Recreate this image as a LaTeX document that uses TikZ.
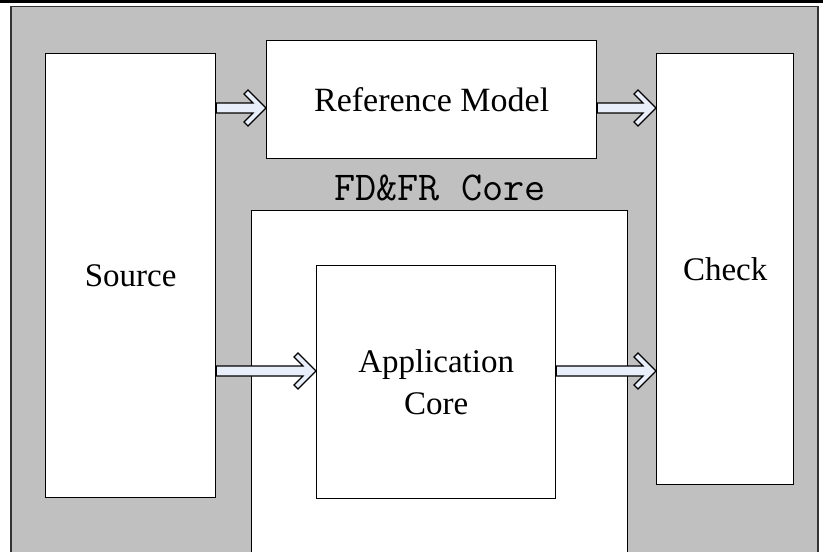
\documentclass[tikz,border=0pt]{standalone}
\usepackage{fontspec}
\setmainfont{Liberation Serif}
\usetikzlibrary{calc}
\definecolor{bggray}{HTML}{C0C0C0}
\definecolor{arrowfill}{HTML}{E9EFFA}
\tikzset{
  box/.style={draw=black, line width=1.3pt, fill=white, anchor=north west, inner sep=0pt,
    font=\fontsize{33}{42}\selectfont, align=center},
  fatarrow/.style={draw=black, line width=1.1pt, fill=arrowfill, line join=miter},
}
\newcommand{\fatarr}[3]{%
  \path let \p1=(#1.east), \p2=(#2.west), \p3=(0,#3) in
    [fatarrow] (\x1,\y3+5pt) -- (\x2-13pt,\y3+5pt) -- (\x2-22pt,\y3+14pt)
    -- (\x2-18pt,\y3+18pt) -- (\x2,\y3) -- (\x2-18pt,\y3-18pt)
    -- (\x2-22pt,\y3-14pt) -- (\x2-13pt,\y3-5pt) -- (\x1,\y3-5pt) -- cycle;}
\begin{document}
\begin{tikzpicture}[x=1pt,y=-1pt]
\useasboundingbox (0,0) rectangle (823,552);
\fill[white] (0,0) rectangle (823,552);
\fill[black] (0,0) rectangle (823,3);
\draw[fill=bggray, draw=black!80, line width=1.1pt] (11,6.5) rectangle (818,570);
\node[box, minimum width=170pt, minimum height=444pt] (src) at (45,53) {Source};
\node[box, minimum width=330pt, minimum height=118pt, font=\fontsize{34}{42}\selectfont] (ref) at (266,40) {Reference Model};
\node[box, minimum width=137pt, minimum height=431pt] (chk) at (656,53) {Check};
\node[box, minimum width=376pt, minimum height=360pt] (fdfr) at (251,210) {};
\node[box, minimum width=239pt, minimum height=233pt] (app) at (316,265) {Application\\Core};
\node[font=\ttfamily\fontsize{41}{44}\selectfont, inner sep=0pt] (fdlabel) at (440,188) {FD\&FR Core};
\fatarr{src}{ref}{108}
\fatarr{ref}{chk}{108}
\fatarr{src}{app}{371}
\fatarr{app}{chk}{371}
\end{tikzpicture}
\end{document}
